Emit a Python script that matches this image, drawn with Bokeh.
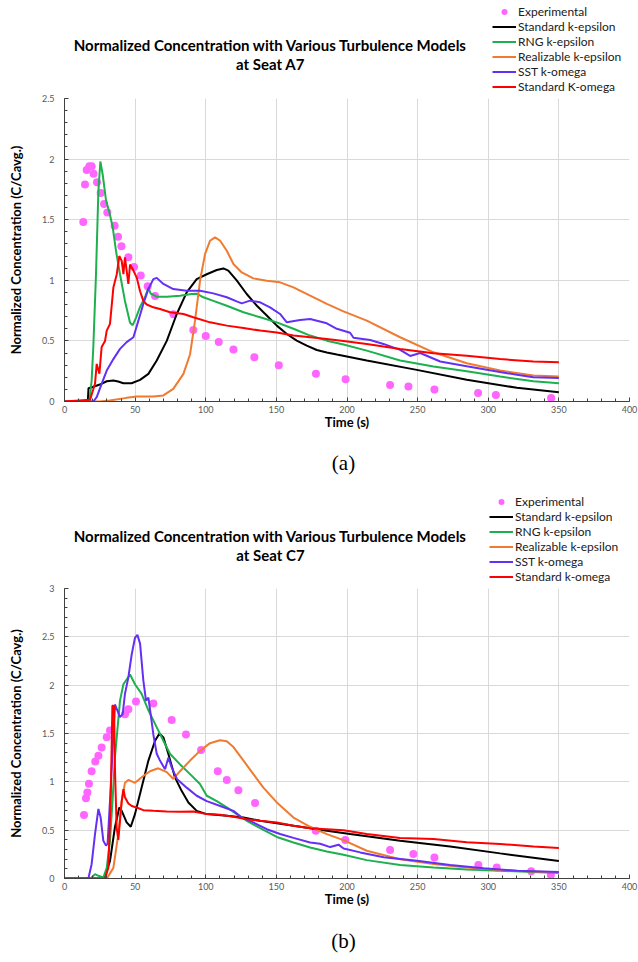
from bokeh.plotting import figure
from bokeh.layouts import column
from bokeh.models import Range1d, Legend, LegendItem, Label, FixedTicker
from bokeh.embed import file_html
from bokeh.resources import INLINE

# ---------------- (a) Seat A7 ----------------
exp_a_t = [13.3, 14.5, 15.7, 17.6, 19.2, 20.6, 23.0, 25.6, 28.0, 30.3, 35.5, 37.9, 40.3, 45.2, 49.2,
           54.0, 58.9, 64.1, 77.1, 91.2, 100.0, 109.2, 119.6, 134.4, 151.7, 178.0, 199.0, 230.5,
           243.5, 261.9, 292.8, 305.4, 344.5]
exp_a_c = [1.48, 1.79, 1.91, 1.94, 1.94, 1.88, 1.81, 1.72, 1.63, 1.56, 1.45, 1.36, 1.28, 1.19, 1.11,
           1.04, 0.95, 0.87, 0.72, 0.59, 0.54, 0.49, 0.43, 0.365, 0.30, 0.228, 0.184, 0.137,
           0.124, 0.100, 0.070, 0.053, 0.028]

ske_a_t = [0, 16.5, 17, 20, 25, 29.9, 34.6, 38, 41.7, 47.5, 53.5, 59.4, 65.3, 72.4, 79.4, 86.5, 93.6,
           100.7, 107.8, 112.5, 116, 121.9, 129, 136.2, 143.2, 150.3, 157.4, 164.4, 171.5, 178.6,
           185.7, 192.8, 214, 249.4, 284.8, 320.3, 350]
ske_a_c = [0, 0, 0.11, 0.12, 0.14, 0.167, 0.173, 0.165, 0.151, 0.151, 0.178, 0.228, 0.338, 0.50, 0.72,
           0.90, 1.01, 1.05, 1.085, 1.098, 1.08, 1.0, 0.887, 0.79, 0.71, 0.626, 0.557, 0.502, 0.461,
           0.425, 0.405, 0.387, 0.338, 0.261, 0.179, 0.113, 0.077]

rng_a_t = [0, 17.6, 19.2, 20.4, 22.3, 24, 25.4, 27, 29.4, 31.8, 34.1, 36.5, 39.3, 42.8, 46.4, 48.3,
           50.6, 53.5, 57, 59.4, 61, 65.3, 72.4, 81.8, 90, 93.6, 98.3, 105.4, 114.9, 126.7, 138.5,
           150.3, 162.1, 173.9, 185.7, 197.5, 214, 237.6, 261.2, 284.8, 308.4, 332, 350]
rng_a_c = [0, 0, 0.17, 0.45, 1.05, 1.74, 1.98, 1.875, 1.66, 1.56, 1.44, 1.24, 1.05, 0.83, 0.65, 0.63,
           0.69, 0.78, 0.86, 0.94, 0.89, 0.865, 0.865, 0.873, 0.887, 0.89, 0.86, 0.83, 0.79, 0.736,
           0.695, 0.653, 0.6, 0.544, 0.502, 0.47, 0.42, 0.338, 0.288, 0.25, 0.206, 0.167, 0.15]

rke_a_t = [0, 25, 32, 44, 51.2, 62.9, 70, 77, 84.2, 88.9, 92.4, 96, 99.5, 103, 106.6, 110.2, 114.9,
           119.6, 125.5, 133.7, 143.2, 152.6, 162.1, 173.9, 185.7, 197.5, 214, 237.6, 261.2, 284.8,
           308.4, 332, 350]
rke_a_c = [0, 0, 0.008, 0.03, 0.041, 0.041, 0.05, 0.104, 0.228, 0.39, 0.667, 1.0, 1.216, 1.326, 1.354,
           1.326, 1.244, 1.134, 1.065, 1.016, 0.997, 0.983, 0.942, 0.873, 0.805, 0.744, 0.667, 0.53,
           0.406, 0.316, 0.255, 0.215, 0.206]

sst_a_t = [0, 20.4, 22.8, 26.3, 29.9, 34.6, 39.3, 44, 48.8, 52.3, 55.8, 59.4, 62.9, 65.3, 70, 77,
           86.5, 96, 105.4, 114.9, 121.9, 125.5, 131.4, 138.5, 145.5, 152.6, 157.4, 166.8, 173.9,
           185.7, 192.8, 202.2, 204.6, 216.4, 225.8, 237.6, 244.7, 251.8, 266, 284.8, 299, 320.3,
           332, 350]
sst_a_c = [0, 0, 0.036, 0.146, 0.255, 0.35, 0.434, 0.49, 0.53, 0.667, 0.805, 0.928, 1.01, 1.02, 0.97,
           0.928, 0.914, 0.914, 0.892, 0.86, 0.826, 0.81, 0.832, 0.818, 0.777, 0.722, 0.653, 0.673,
           0.68, 0.645, 0.6, 0.567, 0.526, 0.508, 0.475, 0.426, 0.376, 0.4, 0.33, 0.29, 0.262, 0.22,
           0.2, 0.193]

skw_a_t = [0, 18.1, 21.6, 22.8, 24.7, 26.3, 28.7, 29.9, 32.2, 34.6, 37, 38.8, 40.5, 41.7, 42.8, 44,
           45.2, 46.4, 48.8, 51.2, 53.5, 55.8, 58.2, 62.9, 67.6, 74.7, 84.2, 91.2, 103, 114.9, 126.7,
           138.5, 150.3, 162.1, 173.9, 185.7, 197.5, 214, 237.6, 261.2, 284.8, 308.4, 332, 350]
skw_a_c = [0, 0.014, 0.146, 0.31, 0.23, 0.45, 0.5, 0.585, 0.64, 0.94, 1.05, 1.2, 1.16, 1.05, 1.19,
           1.08, 0.97, 1.13, 1.08, 1.02, 0.91, 0.83, 0.80, 0.777, 0.763, 0.736, 0.722, 0.695, 0.653,
           0.626, 0.607, 0.585, 0.57, 0.544, 0.53, 0.516, 0.5, 0.475, 0.433, 0.398, 0.378, 0.35,
           0.33, 0.323]

# ---------------- (b) Seat C7 ----------------
exp_b_t = [13.8, 15.2, 16.2, 17.3, 19.2, 21.8, 24.0, 26.3, 29.9, 32.2, 42.8, 45.2, 50.6, 62.9, 75.9,
           86.0, 96.7, 108.5, 114.9, 123.1, 134.9, 177.9, 198.8, 230.5, 247.0, 261.9, 293.0, 306.0,
           330.4, 344.3]
exp_b_c = [0.656, 0.83, 0.89, 0.98, 1.11, 1.21, 1.27, 1.356, 1.46, 1.53, 1.70, 1.75, 1.83, 1.81, 1.64,
           1.49, 1.33, 1.11, 1.02, 0.914, 0.78, 0.494, 0.397, 0.294, 0.253, 0.218, 0.139, 0.115,
           0.074, 0.036]

ske_b_t = [0, 28, 32.2, 35.7, 38.8, 40.5, 44, 46.9, 49.9, 54.6, 59.4, 64.1, 67.2, 70, 73.5, 78.2,
           82.9, 87.7, 93.6, 100.7, 114.9, 126.7, 138.5, 162.1, 185.7, 202.2, 237.6, 273, 308.4, 350]
ske_b_c = [0, 0, 0.18, 0.53, 0.735, 0.70, 0.58, 0.535, 0.666, 0.942, 1.22, 1.425, 1.50, 1.46, 1.29,
           1.046, 0.907, 0.787, 0.70, 0.666, 0.649, 0.63, 0.597, 0.545, 0.493, 0.46, 0.39, 0.33,
           0.26, 0.18]

rng_b_t = [0, 18, 19.2, 21.6, 24, 27.5, 29.9, 32.2, 34, 35.7, 37.4, 39.3, 41.7, 46.4, 49.9, 54.6,
           59.4, 64.1, 70, 74.7, 81.8, 88.9, 95.9, 100.7, 107.8, 114.9, 121.9, 129, 138.5, 150.3,
           162.1, 173.9, 185.7, 197.5, 214, 237.6, 261.2, 284.8, 308.4, 350]
rng_b_c = [0, 0, 0.01, 0.045, 0.028, 0.01, 0.11, 0.39, 0.80, 1.25, 1.53, 1.84, 2.01, 2.11, 2.01, 1.91,
           1.74, 1.60, 1.425, 1.29, 1.18, 1.08, 0.977, 0.856, 0.80, 0.735, 0.666, 0.597, 0.52, 0.43,
           0.373, 0.32, 0.28, 0.245, 0.19, 0.14, 0.115, 0.094, 0.08, 0.056]

rke_b_t = [0, 30, 34.6, 38.1, 40.5, 42.8, 45.2, 49.9, 55.8, 60.5, 66.4, 72.4, 77.1, 81.8, 88.9, 95.9,
           103, 110, 114.9, 119.6, 126.7, 133.7, 140.8, 150.3, 162.1, 173.9, 185.7, 197.5, 214,
           237.6, 261.2, 284.8, 308.4, 350]
rke_b_c = [0, 0, 0.11, 0.46, 0.80, 0.99, 1.02, 0.99, 1.06, 1.11, 1.14, 1.10, 1.03, 1.11, 1.22, 1.32,
           1.40, 1.43, 1.42, 1.36, 1.22, 1.08, 0.94, 0.787, 0.63, 0.535, 0.459, 0.397, 0.287, 0.2,
           0.149, 0.115, 0.087, 0.063]

sst_b_t = [0, 16.9, 19.2, 21.6, 24, 25.6, 27.5, 29.4, 30.5, 32.2, 34.6, 35.7, 37.4, 39.3, 41.2, 42.8,
           45.2, 47.6, 49.9, 51.6, 53.5, 55.8, 57.7, 59.4, 61, 62.9, 65.3, 67.6, 71.2, 73.5, 75.9,
           79.6, 86.5, 93.6, 100.7, 110.2, 119.6, 125.5, 133.7, 143.2, 152.6, 162.1, 173.9, 181,
           188.1, 194, 197.6, 209.4, 226, 249.6, 273, 296.6, 320.3, 350]
sst_b_c = [0, 0, 0.148, 0.46, 0.72, 0.63, 0.39, 0.34, 0.36, 0.80, 1.49, 1.80, 1.74, 1.67, 1.70, 1.91,
           2.08, 2.32, 2.49, 2.52, 2.43, 2.05, 1.84, 1.87, 1.70, 1.49, 1.29, 1.22, 1.13, 1.25, 1.15,
           1.03, 0.94, 0.856, 0.80, 0.75, 0.70, 0.63, 0.58, 0.51, 0.46, 0.42, 0.373, 0.36, 0.325,
           0.35, 0.31, 0.27, 0.22, 0.184, 0.14, 0.105, 0.08, 0.066]

skw_b_t = [0, 28.7, 31, 32.7, 33.9, 35.1, 35.7, 36.9, 38.1, 39.3, 40.5, 41.7, 42.8, 45.2, 47.6, 51.1,
           55.8, 62.9, 72.4, 81.8, 91.2, 100.7, 110.2, 119.6, 129, 138.5, 150.3, 162.1, 173.9,
           185.7, 197.5, 214, 237.6, 261.2, 284.8, 308.4, 332, 350]
skw_b_c = [0, 0, 0.11, 0.80, 1.79, 1.78, 1.15, 0.53, 0.40, 0.60, 0.80, 0.925, 0.84, 0.776, 0.75, 0.735,
           0.707, 0.70, 0.694, 0.69, 0.694, 0.666, 0.66, 0.638, 0.614, 0.597, 0.58, 0.545, 0.52,
           0.51, 0.50, 0.46, 0.418, 0.408, 0.374, 0.357, 0.33, 0.315]

x_ticks = [0, 50, 100, 150, 200, 250, 300, 350, 400]
y_ticks_a = [0, 0.5, 1, 1.5, 2, 2.5]
y_ticks_b = [0, 0.5, 1, 1.5, 2, 2.5, 3]
y_labels = {0: "0", 0.5: "0.5", 1: "1", 1.5: "1.5", 2: "2", 2.5: "2.5", 3: "3"}

KEYS = ["exp", "ske", "rng", "rke", "sst", "skw"]
COLORS = {"exp": "#FF66FF", "ske": "#000000", "rng": "#1DB04E", "rke": "#F07B30",
          "sst": "#6530F5", "skw": "#FF0000"}
FONT = "Lato"
TITLE1 = "Normalized Concentration with Various Turbulence Models"


def make_strip(height):
    # text-only strip; its frame is aligned with the chart frames (x pixels 64..629)
    h = figure(width=638, height=height, x_range=Range1d(64, 629), y_range=Range1d(height, 0),
               x_axis_type=None, y_axis_type=None, output_backend="svg",
               toolbar_location=None, min_border=0)
    h.outline_line_color = None
    h.background_fill_color = "white"
    h.border_fill_color = "white"
    return h


def make_header(height, title2, title_ys, legend_x, names, series):
    h = make_strip(height)
    # legend-only renderers (hidden), carrying the same series
    t_exp, c_exp = series[0]
    rends = [h.scatter(t_exp, c_exp, size=8, color=COLORS["exp"], line_color=None, visible=False)]
    for key, (t, c) in zip(KEYS[1:], series[1:]):
        rends.append(h.line(t, c, line_color=COLORS[key], line_width=2, visible=False))
    legend = Legend(items=[LegendItem(label=n, renderers=[r]) for n, r in zip(names, rends)],
                    location=(legend_x, 0), orientation="vertical",
                    label_text_font=FONT, label_text_font_size="12px",
                    label_text_color="#202020",
                    glyph_width=24, glyph_height=15, label_height=15, spacing=0,
                    padding=0, margin=0, label_standoff=2,
                    inactive_fill_alpha=0,
                    border_line_color=None, background_fill_alpha=0)
    h.add_layout(legend)
    for txt, yy in zip([TITLE1, title2], title_ys):
        h.add_layout(Label(x=270, y=yy, text=txt, text_align="center", text_baseline="middle",
                           text_font=FONT, text_font_style="bold", text_font_size="15px",
                           text_color="#000000"))
    return h


def make_footer(height, caption, cap_y):
    f = make_strip(height)
    f.add_layout(Label(x=343, y=cap_y, text=caption, text_align="center", text_baseline="middle",
                       text_font="Liberation Serif", text_font_size="21px", text_color="#000000"))
    return f


def make_chart(height, bottom, ymax, yticks, series):
    p = figure(width=638, height=height, x_range=Range1d(0, 400), y_range=Range1d(0, ymax),
               output_backend="svg", toolbar_location=None,
               min_border_left=64, min_border_right=9, min_border_top=4,
               min_border_bottom=bottom)
    p.outline_line_color = None
    p.background_fill_color = "white"
    p.border_fill_color = "white"

    xt = FixedTicker(ticks=x_ticks, minor_ticks=list(range(0, 401, 10)))
    yt = FixedTicker(ticks=yticks, minor_ticks=[i / 10 for i in range(0, int(ymax * 10) + 1)])
    p.xaxis.ticker = xt
    p.yaxis.ticker = yt
    p.xgrid.ticker = xt
    p.ygrid.ticker = yt
    p.xgrid.grid_line_color = "#D9D9D9"
    p.ygrid.grid_line_color = "#D9D9D9"
    p.yaxis.major_label_overrides = {k: v for k, v in y_labels.items() if k <= ymax}

    for ax in (p.xaxis[0], p.yaxis[0]):
        ax.axis_line_color = "#404040"
        ax.major_tick_line_color = "#404040"
        ax.minor_tick_line_color = "#404040"
        ax.major_tick_in = 4
        ax.major_tick_out = 0
        ax.minor_tick_in = 3
        ax.minor_tick_out = 0
        ax.major_label_text_font = FONT
        ax.major_label_text_font_size = "9px"
        ax.major_label_text_color = "#595959"
        ax.axis_label_text_font = FONT
        ax.axis_label_text_font_style = "bold"
        ax.axis_label_text_font_size = "13px"
        ax.axis_label_text_color = "#000000"
    p.xaxis.axis_label = "Time (s)"
    p.yaxis.axis_label = "Normalized Concentration (C/Cavg.)"
    p.xaxis.major_label_standoff = 4
    p.xaxis.axis_label_standoff = -2
    p.yaxis.major_label_standoff = 10
    p.yaxis.axis_label_standoff = 15

    t_exp, c_exp = series[0]
    p.scatter(t_exp, c_exp, size=8, color=COLORS["exp"], line_color=None)
    for key, (t, c) in zip(KEYS[1:], series[1:]):
        p.line(t, c, line_color=COLORS[key], line_width=2)
    return p


names_a = ["Experimental", "Standard k-epsilon", "RNG k-epsilon", "Realizable k-epsilon",
           "SST k-omega", "Standard K-omega"]
names_b = ["Experimental", "Standard k-epsilon", "RNG k-epsilon", "Realizable k-epsilon",
           "SST k-omega", "Standard k-omega"]

series_a = [(exp_a_t, exp_a_c), (ske_a_t, ske_a_c), (rng_a_t, rng_a_c), (rke_a_t, rke_a_c),
            (sst_a_t, sst_a_c), (skw_a_t, skw_a_c)]
series_b = [(exp_b_t, exp_b_c), (ske_b_t, ske_b_c), (rng_b_t, rng_b_c), (rke_b_t, rke_b_c),
            (sst_b_t, sst_b_c), (skw_b_t, skw_b_c)]

ha = make_header(94, "at Seat A7", (44, 63), 428, names_a, series_a)
pa = make_chart(346, 39, 2.5, y_ticks_a, series_a)
fa = make_footer(40, "(a)", 22)
hb = make_header(104, "at Seat C7", (55, 74), 425, names_b, series_b)
pb = make_chart(334, 40, 3, y_ticks_b, series_b)
fb = make_footer(44, "(b)", 22)

layout = column(ha, pa, fa, hb, pb, fb, spacing=0)
open("out.html", "w").write(file_html(layout, INLINE))
